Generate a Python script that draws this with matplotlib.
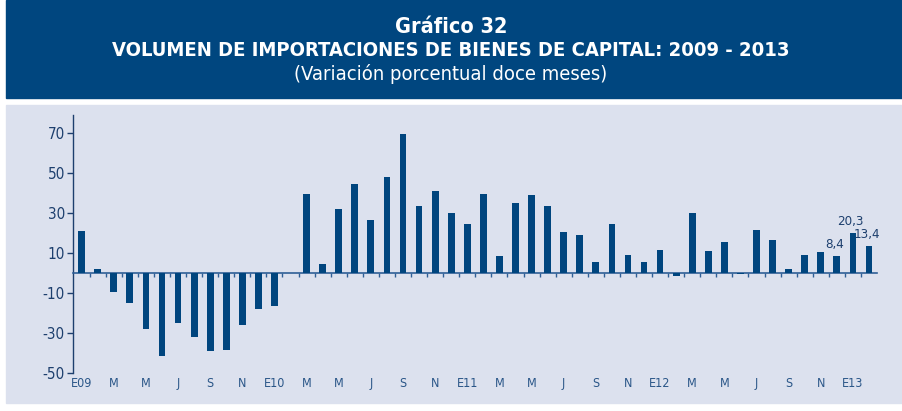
import matplotlib
matplotlib.use("Agg")
import matplotlib.pyplot as plt
import numpy as np

# Monthly data, Jan 2009 - Feb 2013 (12-month % change)
months = ["E09", "F", "M", "A", "M", "J", "J", "A", "S", "O", "N", "D",
          "E10", "F", "M", "A", "M", "J", "J", "A", "S", "O", "N", "D",
          "E11", "F", "M", "A", "M", "J", "J", "A", "S", "O", "N", "D",
          "E12", "F", "M", "A", "M", "J", "J", "A", "S", "O", "N", "D",
          "E13", "F"]
values = [21.1, 2.2, -9.3, -14.8, -27.7, -41.5, -24.7, -32.0, -38.8, -38.3, -26.0, -17.7,
          -16.3, 0.0, 39.7, 4.7, 32.0, 44.5, 26.5, 48.0, 69.5, 33.5, 41.2, 30.0,
          24.7, 39.5, 8.8, 35.0, 39.0, 33.7, 20.8, 19.0, 5.5, 24.7, 9.2, 5.5,
          11.7, -1.5, 30.2, 11.0, 15.8, -0.5, 21.7, 16.5, 2.0, 9.0, 10.5, 8.4,
          20.3, 13.4]
labelled = {47: "8,4", 48: "20,3", 49: "13,4"}
yticks = [-50, -30, -10, 10, 30, 50, 70]

plt.rcParams["font.family"] = ["DejaVu Sans"]
plt.rcParams["font.stretch"] = "condensed"
plt.rcParams["axes.unicode_minus"] = False

navy = "#00457e"
bg = "#dce1ee"
text_c = "#1d3f6e"

fig = plt.figure(figsize=(9.02, 4.11), dpi=100)
fig.patch.set_facecolor("white")

# title banner and chart panel
fig.patches.append(plt.Rectangle((6 / 902, 1 - 98 / 411), 1, 98 / 411,
                                 transform=fig.transFigure, color="#00467f", zorder=-2))
fig.patches.append(plt.Rectangle((6 / 902, 1 - 403 / 411), 1, (403 - 105) / 411,
                                 transform=fig.transFigure, color=bg, zorder=-2))

fig.text(0.5, 1 - 27 / 411, "Gráfico 32", color="white", fontsize=15.5,
         fontweight="bold", ha="center", va="center")
fig.text(0.5, 1 - 50 / 411, "VOLUMEN DE IMPORTACIONES DE BIENES DE CAPITAL: 2009 - 2013",
         color="white", fontsize=14.5, fontweight="bold", ha="center", va="center")
fig.text(0.5, 1 - 74 / 411, "(Variación porcentual doce meses)", color="white",
         fontsize=14.5, ha="center", va="center")

ax = fig.add_axes([73.3 / 902, 37.7 / 411, (877 - 73.3) / 902, (373.3 - 115) / 411])
ax.set_facecolor("none")

x = np.arange(len(values))
ax.bar(x, values, width=0.42, color=navy, zorder=3)

for i, txt in labelled.items():
    ax.text(x[i] - 0.15, values[i] + 2.5, txt, ha="center", va="bottom",
            fontsize=9.5, color=text_c)

ax.set_xlim(-0.52, len(values) - 0.5)
ax.set_ylim(-50, 79)

for s in ["top", "right"]:
    ax.spines[s].set_visible(False)
ax.spines["left"].set_color(text_c)
ax.spines["left"].set_linewidth(1.0)
ax.spines["bottom"].set_position(("data", 0))
ax.spines["bottom"].set_color("#2f5f96")
ax.spines["bottom"].set_linewidth(1.2)

ax.set_yticks(yticks)
ax.tick_params(axis="y", length=4, width=1, color=text_c, labelcolor=text_c,
               labelsize=11, pad=2)

ax.set_xticks(x[::2])
ax.set_xticklabels([])
ax.tick_params(axis="x", which="major", length=0)
ax.set_xticks(x[:-1] + 0.5, minor=True)
ax.tick_params(axis="x", which="minor", length=3, width=1, color="#2f5f96", direction="out")

sec = ax.secondary_xaxis("bottom")
sec.set_xticks(x[::2])
sec.set_xticklabels(months[::2])
sec.spines["bottom"].set_visible(False)
sec.tick_params(length=0, labelsize=9, labelcolor="#2a5688", pad=2.5)

fig.savefig("out.png", dpi=100, facecolor="white")
